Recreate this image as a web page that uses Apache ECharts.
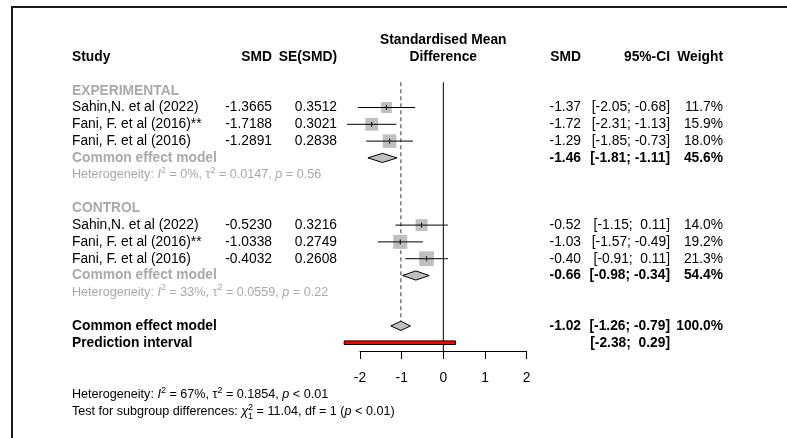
<!DOCTYPE html>
<html><head><meta charset="utf-8">
<script src="https://cdn.jsdelivr.net/npm/echarts@6.0.0/dist/echarts.min.js"></script>
<style>html,body{margin:0;padding:0;background:#fff}#c{width:787px;height:438px}</style>
</head><body><div id="c"></div>
<script>
// ---------- data ----------
const groups = ['EXPERIMENTAL', 'CONTROL'];
const studies = ['Sahin,N. et al (2022)', 'Fani, F. et al (2016)**', 'Fani, F. et al (2016)'];
const expSMD = [-1.3665, -1.7188, -1.2891];
const expSE  = [0.3512, 0.3021, 0.2838];
const expLo  = [-2.05, -2.31, -1.85];
const expHi  = [-0.68, -1.13, -0.73];
const expW   = [11.7, 15.9, 18.0];
const ctlSMD = [-0.5230, -1.0338, -0.4032];
const ctlSE  = [0.3216, 0.2749, 0.2608];
const ctlLo  = [-1.15, -1.57, -0.91];
const ctlHi  = [0.11, -0.49, 0.11];
const ctlW   = [14.0, 19.2, 21.3];
const subEst = [-1.46, -0.66];
const subLo  = [-1.81, -0.98];
const subHi  = [-1.11, -0.34];
const subW   = [45.6, 54.4];
const subI2  = ['0%', '33%'];
const subTau2 = ['0.0147', '0.0559'];
const subP   = ['= 0.56', '= 0.22'];
const overallEst = [-1.02];
const overallCI  = [-1.26, -0.79];
const overallW   = [100.0];
const predCI     = [-2.38, 0.29];
const overallHet = ['67%', '0.1854', '< 0.01'];
const testSub    = ['11.04', '1', '< 0.01'];
const nullEffect = [0];
const axisTicks  = [-2, -1, 0, 1, 2];

// ---------- layout / style ----------
const FONT = '"Liberation Sans", Arial, Helvetica, sans-serif';
const GRAY = '#a9a9a9';
const FS = 13.8, FS_SMALL = 12.6;
const COL = { study: 72, smd: 272, se: 337, mid: 443.3, smd2: 581, ci: 670, w: 723 };

function fmt2(v) { const s = v < 0 ? '-' : ''; return s + (Math.round(Math.abs(v) * 100 + 1e-7) / 100).toFixed(2); }
function padNum(v) { return (v < 0 ? '' : ' ') + fmt2(v); }
function ciText(lo, hi) { return '[' + padNum(lo) + '; ' + padNum(hi) + ']'; }

const groupData = [
  { smd: expSMD, se: expSE, lo: expLo, hi: expHi, w: expW },
  { smd: ctlSMD, se: ctlSE, lo: ctlLo, hi: ctlHi, w: ctlW }
];

const cells = [];
function cell(row, x, align, text, opt) { cells.push(Object.assign({ row, x, align, text, bold: false, color: '#000', size: FS }, opt || {})); }

// header
cell(-3, COL.mid, 'center', 'Standardised Mean', { bold: true });
cell(-2, COL.mid, 'center', 'Difference', { bold: true });
cell(-2, COL.study, 'left', 'Study', { bold: true });
cell(-2, COL.smd, 'right', 'SMD', { bold: true });
cell(-2, COL.se, 'right', 'SE(SMD)', { bold: true });
cell(-2, COL.smd2, 'right', 'SMD', { bold: true });
cell(-2, COL.ci, 'right', '95%-CI', { bold: true });
cell(-2, COL.w, 'right', 'Weight', { bold: true });

const studyMarks = [], diamonds = [];
groupData.forEach((gd, g) => {
  const base = g * 7;
  cell(base, COL.study, 'left', groups[g], { bold: true, color: GRAY });
  studies.forEach((name, i) => {
    const r = base + 1 + i;
    cell(r, COL.study, 'left', name);
    cell(r, COL.smd, 'right', gd.smd[i].toFixed(4));
    cell(r, COL.se, 'right', gd.se[i].toFixed(4));
    cell(r, COL.smd2, 'right', fmt2(gd.smd[i]));
    cell(r, COL.ci, 'right', ciText(gd.lo[i], gd.hi[i]));
    cell(r, COL.w, 'right', gd.w[i].toFixed(1) + '%');
    studyMarks.push([gd.smd[i], r, gd.lo[i], gd.hi[i], gd.w[i]]);
  });
  const rc = base + 4;
  cell(rc, COL.study, 'left', 'Common effect model', { bold: true, color: GRAY });
  cell(rc, COL.smd2, 'right', fmt2(subEst[g]), { bold: true });
  cell(rc, COL.ci, 'right', ciText(subLo[g], subHi[g]), { bold: true });
  cell(rc, COL.w, 'right', subW[g].toFixed(1) + '%', { bold: true });
  diamonds.push([subEst[g], rc, subLo[g], subHi[g]]);
  cell(base + 5, COL.study, 'left',
    'Heterogeneity: {i|I}{s|2} = ' + subI2[g] + ', τ{s|2} = ' + subTau2[g] + ', {i|p} ' + subP[g],
    { color: GRAY, size: FS_SMALL, rich: true });
});
cell(14, COL.study, 'left', 'Common effect model', { bold: true });
cell(14, COL.smd2, 'right', fmt2(overallEst[0]), { bold: true });
cell(14, COL.ci, 'right', ciText(overallCI[0], overallCI[1]), { bold: true });
cell(14, COL.w, 'right', overallW[0].toFixed(1) + '%', { bold: true });
diamonds.push([overallEst[0], 14, overallCI[0], overallCI[1]]);
cell(15, COL.study, 'left', 'Prediction interval', { bold: true });
cell(15, COL.ci, 'right', ciText(predCI[0], predCI[1]), { bold: true });
cell(18.1, COL.study, 'left',
  'Heterogeneity: {i|I}{s|2} = ' + overallHet[0] + ', τ{s|2} = ' + overallHet[1] + ', {i|p} ' + overallHet[2],
  { size: FS_SMALL, rich: true });
cell(19.1, COL.study, 'left',
  'Test for subgroup differences: {i|χ}{s0|2}{b|1} = ' + testSub[0] + ', df = ' + testSub[1] + ' ({i|p} ' + testSub[2] + ')',
  { size: FS_SMALL, rich: true });

function richFor(size, color) {
  const b = { fontFamily: FONT, fill: color, color: color };
  return {
    i: Object.assign({}, b, { fontSize: size, fontStyle: 'italic', lineHeight: 18 }),
    s: Object.assign({}, b, { fontSize: 9, lineHeight: 9, verticalAlign: 'top' }),
    s0: Object.assign({}, b, { fontSize: 9, lineHeight: 9, verticalAlign: 'top', width: 0 }),
    b: Object.assign({}, b, { fontSize: 9, lineHeight: 9, verticalAlign: 'bottom' })
  };
}

// reference lines: [x, rowStart, rowEnd, kind]
const refLines = [
  [nullEffect[0], -0.5, 15.5, 0],
  [overallEst[0], -0.5, 13.72, 1]
];
const predData = [[predCI[0], 15, predCI[1]]];

const chart = echarts.init(document.getElementById('c'), null, { renderer: 'canvas' });
chart.setOption({
  animation: false,
  backgroundColor: '#fff',
  grid: { left: 360, right: 260.3, top: 82.3, height: 268.8 },
  xAxis: {
    type: 'value', position: 'bottom', min: axisTicks[0], max: axisTicks[axisTicks.length - 1], interval: 1,
    axisLine: { show: true, onZero: false, lineStyle: { color: '#000', width: 1 } },
    axisTick: { show: true, inside: false, length: 8, lineStyle: { color: '#000', width: 1 } },
    axisLabel: { color: '#000', fontSize: FS, fontFamily: FONT, margin: 20 },
    splitLine: { show: false }
  },
  yAxis: { type: 'value', inverse: true, min: -0.5, max: 15.5, show: false },
  graphic: [
    { type: 'line', shape: { x1: 11, y1: 7, x2: 787, y2: 7 }, style: { stroke: '#1a1a1a', lineWidth: 2 } },
    { type: 'line', shape: { x1: 12, y1: 7, x2: 12, y2: 438 }, style: { stroke: '#1a1a1a', lineWidth: 2 } }
  ],
  series: [
    {
      type: 'custom', coordinateSystem: 'cartesian2d', silent: true, clip: false, z: 1,
      data: refLines,
      renderItem: (params, api) => {
        const x = api.value(0), k = api.value(3);
        const a = api.coord([x, api.value(1)]), b = api.coord([x, api.value(2)]);
        return {
          type: 'line', shape: { x1: a[0], y1: a[1], x2: b[0], y2: b[1] },
          style: k === 0 ? { stroke: '#000', lineWidth: 1 } : { stroke: '#808080', lineWidth: 1.6, lineDash: [4, 3] }
        };
      }
    },
    {
      type: 'custom', coordinateSystem: 'cartesian2d', silent: true, clip: false, z: 3,
      data: studyMarks,
      renderItem: (params, api) => {
        const c = api.coord([api.value(0), api.value(1)]);
        const pl = api.coord([api.value(2), api.value(1)]);
        const ph = api.coord([api.value(3), api.value(1)]);
        const s = 3.2 * Math.sqrt(api.value(4));
        return {
          type: 'group', children: [
            { type: 'rect', shape: { x: c[0] - s / 2, y: c[1] - s / 2, width: s, height: s }, style: { fill: '#bfbfbf' } },
            { type: 'line', shape: { x1: pl[0], y1: c[1], x2: ph[0], y2: c[1] }, style: { stroke: '#000', lineWidth: 1 } },
            { type: 'line', shape: { x1: c[0], y1: c[1] - 2.5, x2: c[0], y2: c[1] + 2.5 }, style: { stroke: '#000', lineWidth: 1 } }
          ]
        };
      }
    },
    {
      type: 'custom', coordinateSystem: 'cartesian2d', silent: true, clip: false, z: 3,
      data: diamonds,
      renderItem: (params, api) => {
        const r = api.value(1);
        const e = api.coord([api.value(0), r]), l = api.coord([api.value(2), r]), h = api.coord([api.value(3), r]);
        const hh = 4.6;
        return {
          type: 'polygon',
          shape: { points: [[l[0], e[1]], [e[0], e[1] - hh], [h[0], e[1]], [e[0], e[1] + hh]] },
          style: { fill: '#bfbfbf', stroke: '#000', lineWidth: 1 }
        };
      }
    },
    {
      type: 'custom', coordinateSystem: 'cartesian2d', silent: true, clip: false, z: 3,
      data: predData,
      renderItem: (params, api) => {
        const l = api.coord([api.value(0), api.value(1)]), h = api.coord([api.value(2), api.value(1)]);
        return {
          type: 'rect', shape: { x: l[0], y: l[1] - 1.8, width: h[0] - l[0], height: 3.6 },
          style: { fill: '#ff0000', stroke: '#000', lineWidth: 1 }
        };
      }
    },
    {
      type: 'custom', coordinateSystem: 'cartesian2d', silent: true, clip: false, z: 4,
      data: cells.map(c => [0, c.row]),
      renderItem: (params, api) => {
        const c = cells[params.dataIndex];
        const y = api.coord([0, c.row])[1];
        const st = {
          text: c.text, x: c.x, y: y,
          fill: c.color, fontSize: c.size, fontFamily: FONT,
          fontWeight: c.bold ? 'bold' : 'normal',
          align: c.align, verticalAlign: 'middle',
          textAlign: c.align, textVerticalAlign: 'middle'
        };
        if (c.rich) { st.rich = richFor(c.size, c.color); st.lineHeight = 18; }
        return { type: 'text', style: st };
      }
    }
  ]
});
</script>
</body></html>
